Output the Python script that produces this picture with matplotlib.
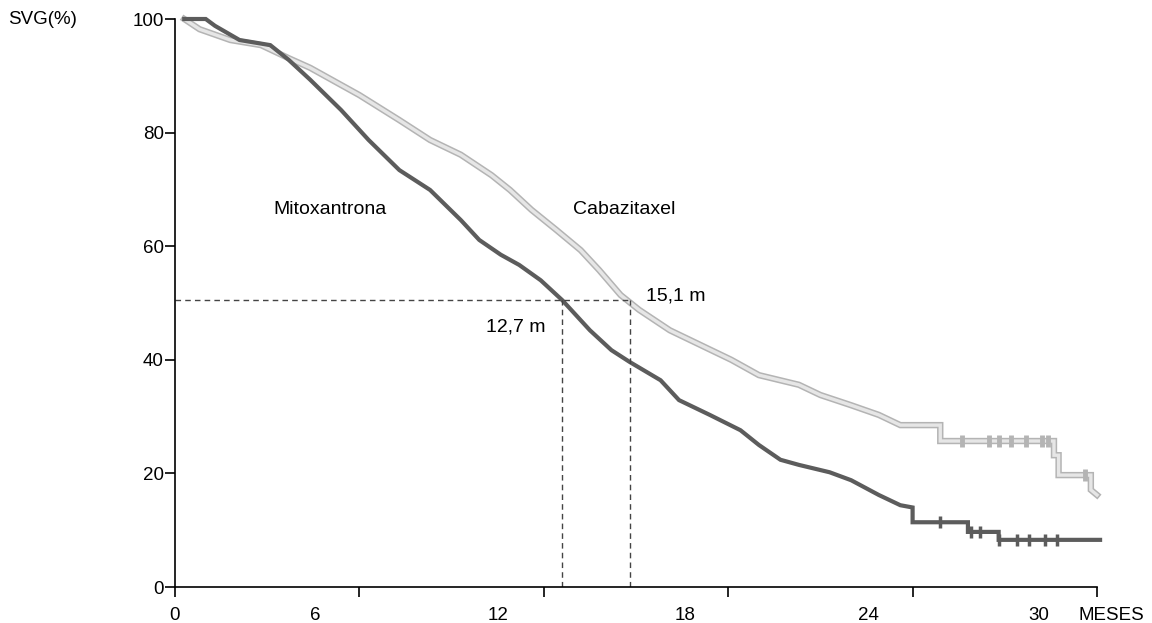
import matplotlib.pyplot as plt

plt.rcParams.update({
    "font.family": ["Liberation Sans", "DejaVu Sans"],
    "font.size": 14,
})

DARK = "#5c5c5c"
LIGHT_EDGE = "#b4b4b4"
LIGHT_FILL = "#e6e6e6"

# Kaplan-Meier curves (months, % survival)
mito_t = [0.3, 1.0, 1.3, 2.1, 3.1, 3.7, 4.4, 5.4, 6.3, 7.3, 8.3, 9.3, 9.9, 10.6,
          11.2, 11.9, 12.6, 13.5, 14.2, 14.8, 15.8, 16.4, 17.4, 18.4, 19.0, 19.7,
          20.3, 21.3, 22.0, 22.9, 23.6, 24.0, 24.0, 25.8, 25.8, 26.8, 26.8, 30.1]
mito_s = [100, 100, 98.8, 96.3, 95.4, 92.8, 89.3, 84.0, 78.7, 73.4, 69.9, 64.6, 61.1, 58.5,
          56.7, 54.0, 50.5, 45.2, 41.7, 39.6, 36.4, 32.9, 30.3, 27.6, 25.0, 22.4,
          21.5, 20.2, 18.8, 16.2, 14.4, 14.0, 11.4, 11.4, 9.7, 9.7, 8.3, 8.3]

caba_t = [0.3, 0.8, 1.8, 2.8, 3.7, 4.4, 5.0, 6.0, 7.3, 8.3, 9.3, 10.3, 10.9, 11.6,
          12.4, 13.2, 13.8, 14.5, 15.1, 16.1, 17.1, 18.1, 19.0, 20.3, 21.0, 22.0,
          22.9, 23.6, 24.9, 24.9, 28.6, 28.6, 28.75, 28.75, 29.8, 29.8, 30.0]
caba_s = [100, 98.2, 96.3, 95.4, 93.1, 91.4, 89.6, 86.6, 82.2, 78.7, 76.1, 72.5, 69.9, 66.4,
          62.9, 59.3, 55.8, 51.4, 48.8, 45.2, 42.6, 40.0, 37.3, 35.6, 33.8, 32.0,
          30.3, 28.5, 28.5, 25.7, 25.7, 23.2, 23.2, 19.7, 19.7, 17.1, 16.2]

# censored observations in the tail
mito_cens = [24.9, 25.9, 26.2, 26.8, 27.4, 27.8, 28.3, 28.7]
caba_cens = [25.6, 26.5, 26.8, 27.2, 27.7, 28.2, 28.4, 29.6]

medians = [12.6, 14.8]
median_level = 50.5


def step_value(times, surv, t):
    # survival level of a step curve just after time t
    val = surv[0]
    for ti, si in zip(times, surv):
        if ti <= t:
            val = si
    return val


fig = plt.figure(figsize=(11.52, 6.23), dpi=100)
ax = fig.add_axes([175/1152, 1 - 587/623, 922/1152, 568/623])

ax.plot(caba_t, caba_s, color=LIGHT_EDGE, lw=4.6, solid_joinstyle="miter", clip_on=False)
ax.plot(caba_t, caba_s, color=LIGHT_FILL, lw=2.4, solid_joinstyle="miter", clip_on=False)
ax.plot(caba_cens, [step_value(caba_t, caba_s, c) for c in caba_cens],
        ls="none", marker="|", ms=9, mew=3.5, color=LIGHT_EDGE, clip_on=False)
ax.plot(mito_t, mito_s, color=DARK, lw=3, solid_joinstyle="miter", clip_on=False)
ax.plot(mito_cens, [step_value(mito_t, mito_s, c) for c in mito_cens],
        ls="none", marker="|", ms=8, mew=2.5, color=DARK, clip_on=False)

# median lines
ax.plot([0, medians[1]], [median_level, median_level], color="#444444", lw=1, ls=(0, (4, 3)))
for m in medians:
    ax.plot([m, m], [0, median_level], color="#444444", lw=1, ls=(0, (4, 3)))

ax.set_xlim(0, 30)
ax.set_ylim(0, 100)
for s in ["top", "right"]:
    ax.spines[s].set_visible(False)
ax.spines["left"].set_linewidth(1.2)
ax.spines["bottom"].set_linewidth(1.2)

ax.set_yticks([0, 20, 40, 60, 80, 100])
ax.tick_params(axis="y", length=7, width=1.2, direction="out", pad=1, labelsize=13.5)
ax.set_xticks([0, 6, 12, 18, 24, 30])
ax.set_xticklabels([])
ax.tick_params(axis="x", length=7, width=1.2, direction="out")

# x tick labels are printed slightly left of their ticks in the original
xlab_pos = [0, 4.55, 10.5, 16.6, 22.55, 28.1]
for xp, lab in zip(xlab_pos, ["0", "6", "12", "18", "24", "30"]):
    ax.text(xp, -5.0, lab, ha="center", va="center", fontsize=13.5)
ax.text(29.4, -5.0, "MESES", ha="left", va="center", fontsize=13.5)
fig.text(8/1152, 1 - 20/623, "SVG(%)", ha="left", va="center", fontsize=13.5)

ax.text(5.05, 66.5, "Mitoxantrona", ha="center", va="center")
ax.text(14.6, 66.4, "Cabazitaxel", ha="center", va="center")
ax.text(16.3, 51.2, "15,1 m", ha="center", va="center")
ax.text(11.1, 45.8, "12,7 m", ha="center", va="center")

fig.savefig("out.png", dpi=100)
